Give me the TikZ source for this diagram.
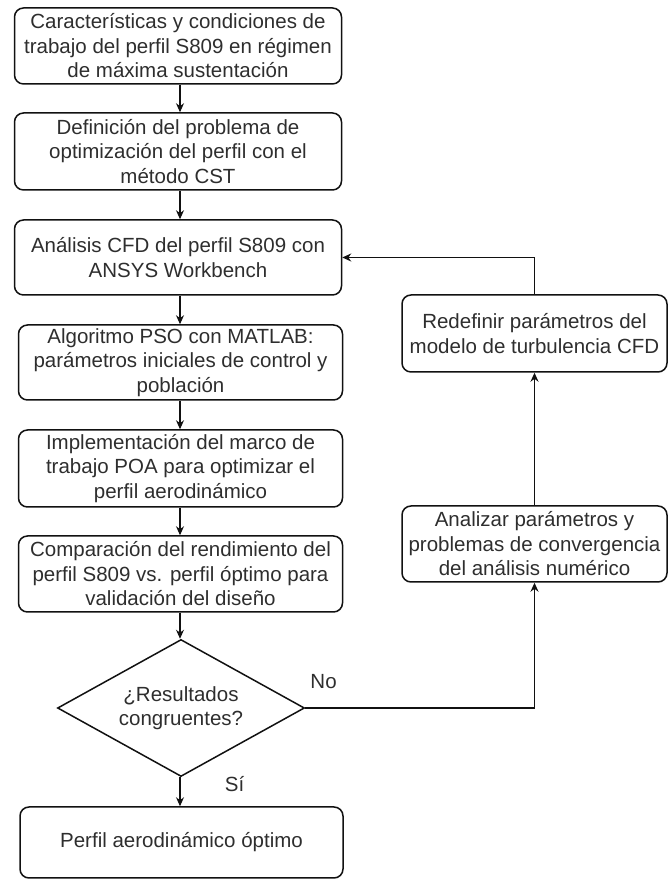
\documentclass[tikz,border=0pt]{standalone}
\usepackage{fontspec}
\setmainfont{Liberation Sans}
\usepackage{tikz}
\usetikzlibrary{arrows.meta,shapes.geometric}
\definecolor{FlowLine}{HTML}{111111}
\definecolor{FlowText}{HTML}{2E2E2E}

\begin{document}
\begin{tikzpicture}[>={Stealth[length=9pt,width=8pt]},x=1pt,y=1pt,
  box/.style={draw=FlowLine,line width=1.5pt,rounded corners=9pt,minimum width=327pt,
    minimum height=76pt,inner sep=0pt,align=center,text=FlowText,
    font=\fontsize{20.5}{24.5}\selectfont},
  sidebox/.style={box,minimum width=265pt},
  decision/.style={diamond,draw=FlowLine,line width=1.5pt,minimum width=247pt,
    minimum height=137pt,aspect=1.8,inner sep=0pt,align=center,text=FlowText,
    font=\fontsize{20.5}{24.5}\selectfont},
  link/.style={->,line width=1.1pt,FlowLine},
  tag/.style={text=FlowText,font=\fontsize{20.5}{24.5}\selectfont}]
  \useasboundingbox (0,0) rectangle (668,882);
  % main column
  \node[box] (caract) at (178,836) {Características y condiciones de\\trabajo del perfil S809 en régimen\\de máxima sustentación};
  \node[box,minimum height=77pt] (defin) at (178,730.5) {Definición del problema de\\optimización del perfil con el\\método CST};
  \node[box,minimum height=75pt] (cfd) at (178,624.5) {Análisis CFD del perfil S809 con\\ANSYS Workbench};
  \node[box,minimum height=75pt,minimum width=324pt] (pso) at (180.5,519.5) {Algoritmo PSO con MATLAB:\\parámetros iniciales de control y\\población};
  \node[box,minimum height=77pt,minimum width=324pt] (poa) at (180.5,413.5) {Implementación del marco de\\trabajo POA para optimizar el\\perfil aerodinámico};
  \node[box,minimum width=324pt] (compar) at (180.5,308) {Comparación del rendimiento del\\perfil S809 vs. perfil óptimo para\\validación del diseño};
  \node[decision] (congr) at (181,174) {¿Resultados\\congruentes?};
  \node[box,minimum height=71pt,minimum width=323pt] (optimo) at (181.5,39.5) {Perfil aerodinámico óptimo};
  % loop back
  \node[sidebox,minimum height=76pt] (analiz) at (534.5,338) {Analizar parámetros y\\problemas de convergencia\\del análisis numérico};
  \node[sidebox,minimum height=77pt] (redef) at (534.5,548.5) {Redefinir parámetros del\\modelo de turbulencia CFD};

  \draw[link] (caract.south -| 180,0) -- (defin.north -| 180,0);
  \draw[link] (defin.south -| 180,0) -- (cfd.north -| 180,0);
  \draw[link] (cfd.south -| 180,0) -- (pso.north -| 180,0);
  \draw[link] (pso.south -| 180,0) -- (poa.north -| 180,0);
  \draw[link] (poa.south -| 180,0) -- (compar.north -| 180,0);
  \draw[link] (compar.south -| 180,0) -- (congr.north -| 180,0);
  \draw[link] (congr.south -| 180,0) -- (optimo.north -| 180,0)
    node[tag,pos=0.25,right=41pt] {Sí};
  \draw[link] (congr.east) -- (congr.east -| analiz.south)
    node[tag,pos=0.08,above=15pt] {No} -- (analiz.south);
  \draw[link] (analiz.north) -- (redef.south);
  \draw[link] (redef.north) |- (cfd.east);
\end{tikzpicture}
\end{document}
